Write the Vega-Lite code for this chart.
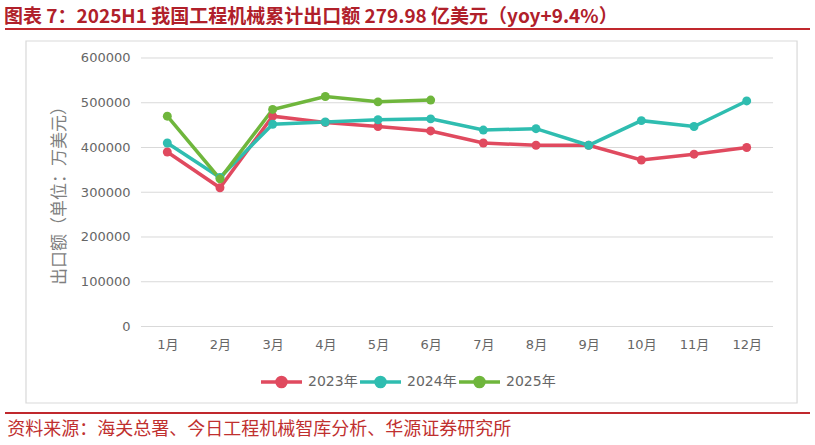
{
  "$schema": "https://vega.github.io/schema/vega-lite/v6.json",
  "width": 805,
  "height": 384,
  "autosize": {"type": "none"},
  "padding": {"left": 5, "top": 29, "right": 5, "bottom": 32},
  "background": "white",
  "config": {"view": {"stroke": null}},
  "title": {
    "text": "图表 7：2025H1 我国工程机械累计出口额 279.98 亿美元（yoy+9.4%）",
    "anchor": "start",
    "fontSize": 19,
    "font": "Noto Sans CJK SC",
    "fontWeight": "bold",
    "color": "#B0202A",
    "offset": 1
  },
  "datasets": {
    "exports": [
      {"month": 1, "year": "2023年", "value": 390000},
      {"month": 2, "year": "2023年", "value": 310000},
      {"month": 3, "year": "2023年", "value": 470000},
      {"month": 4, "year": "2023年", "value": 456000},
      {"month": 5, "year": "2023年", "value": 447000},
      {"month": 6, "year": "2023年", "value": 437000},
      {"month": 7, "year": "2023年", "value": 410000},
      {"month": 8, "year": "2023年", "value": 405000},
      {"month": 9, "year": "2023年", "value": 405000},
      {"month": 10, "year": "2023年", "value": 372000},
      {"month": 11, "year": "2023年", "value": 385000},
      {"month": 12, "year": "2023年", "value": 400000},
      {"month": 1, "year": "2024年", "value": 410000},
      {"month": 2, "year": "2024年", "value": 333000},
      {"month": 3, "year": "2024年", "value": 452000},
      {"month": 4, "year": "2024年", "value": 457000},
      {"month": 5, "year": "2024年", "value": 462000},
      {"month": 6, "year": "2024年", "value": 464000},
      {"month": 7, "year": "2024年", "value": 439000},
      {"month": 8, "year": "2024年", "value": 442000},
      {"month": 9, "year": "2024年", "value": 405000},
      {"month": 10, "year": "2024年", "value": 460000},
      {"month": 11, "year": "2024年", "value": 447000},
      {"month": 12, "year": "2024年", "value": 504000},
      {"month": 1, "year": "2025年", "value": 470000},
      {"month": 2, "year": "2025年", "value": 330000},
      {"month": 3, "year": "2025年", "value": 485000},
      {"month": 4, "year": "2025年", "value": 514000},
      {"month": 5, "year": "2025年", "value": 502000},
      {"month": 6, "year": "2025年", "value": 506000}
    ],
    "grid": [
      {"g": 0}, {"g": 100000}, {"g": 200000}, {"g": 300000},
      {"g": 400000}, {"g": 500000}, {"g": 600000}
    ],
    "note": [
      {"source": "资料来源：海关总署、今日工程机械智库分析、华源证券研究所"}
    ]
  },
  "layer": [
    {
      "data": {"name": "note"},
      "mark": {"type": "rect", "filled": false, "stroke": "#D9D9D9", "strokeWidth": 1.2},
      "encoding": {
        "x": {
          "datum": -1.683, "type": "quantitative",
          "scale": {"domain": [-2.0815, 13.2018], "nice": false, "zero": false},
          "axis": {
            "values": [1, 2, 3, 4, 5, 6, 7, 8, 9, 10, 11, 12],
            "labelExpr": "datum.value + '月'",
            "grid": false, "domain": false, "ticks": false,
            "offset": -78, "labelPadding": 3, "title": null,
            "labelFont": "DejaVu Sans, Noto Sans CJK SC",
            "labelFontSize": 13, "labelColor": "#666666", "labelFlush": false
          }
        },
        "x2": {"datum": 12.956},
        "y": {
          "datum": 637989, "type": "quantitative",
          "scale": {"domain": [-193296, 664804], "nice": false, "zero": false},
          "axis": {
            "values": [0, 100000, 200000, 300000, 400000, 500000, 600000],
            "format": "d",
            "grid": false, "domain": false, "ticks": false,
            "offset": -125, "labelPadding": 0,
            "labelFont": "DejaVu Sans", "labelFontSize": 13, "labelColor": "#666666",
            "labelFlush": false,
            "title": "出口额（单位：万美元）",
            "titleFont": "Noto Sans CJK SC", "titleFontSize": 17,
            "titleFontWeight": "normal", "titleColor": "#7F7F7F",
            "titlePadding": 12, "titleY": 162
          }
        },
        "y2": {"datum": -170950}
      }
    },
    {
      "data": {"name": "grid"},
      "mark": {"type": "rule", "stroke": "#D9D9D9", "strokeWidth": 1},
      "encoding": {
        "x": {"datum": 0.5, "type": "quantitative"},
        "x2": {"datum": 12.5},
        "y": {"field": "g", "type": "quantitative"}
      }
    },
    {
      "data": {"name": "note"},
      "mark": {"type": "rule", "stroke": "#C0282D", "strokeWidth": 2},
      "encoding": {
        "y": {"datum": 664804, "type": "quantitative"}
      }
    },
    {
      "data": {"name": "note"},
      "mark": {"type": "rule", "stroke": "#C0282D", "strokeWidth": 2},
      "encoding": {
        "y": {"datum": -193296, "type": "quantitative"}
      }
    },
    {
      "data": {"name": "exports"},
      "mark": {"type": "line", "strokeWidth": 3.5},
      "encoding": {
        "x": {"field": "month", "type": "quantitative"},
        "y": {"field": "value", "type": "quantitative"},
        "color": {
          "field": "year", "type": "nominal",
          "scale": {"domain": ["2023年", "2024年", "2025年"], "range": ["#E04A5F", "#2FBDB0", "#6FB63C"]},
          "legend": {
            "orient": "none", "legendX": 254, "legendY": 330,
            "direction": "horizontal", "title": null,
            "symbolType": "M-1,0L1,0M0.22,0A0.22,0.22,0,1,1,-0.22,0A0.22,0.22,0,1,1,0.22,0",
            "symbolSize": 1681, "symbolStrokeWidth": 3.5,
            "labelFont": "DejaVu Sans, Noto Sans CJK SC", "labelFontSize": 14,
            "labelColor": "#666666", "labelOffset": 4, "columnPadding": -5,
            "encode": {"symbols": {"update": {"fill": {"scale": "color", "field": "value"}, "stroke": {"scale": "color", "field": "value"}}}}
          }
        }
      }
    },
    {
      "data": {"name": "exports"},
      "mark": {"type": "point", "filled": true, "size": 80, "opacity": 1},
      "encoding": {
        "x": {"field": "month", "type": "quantitative"},
        "y": {"field": "value", "type": "quantitative"},
        "color": {"field": "year", "type": "nominal"}
      }
    },
    {
      "data": {"name": "note"},
      "mark": {"type": "text", "align": "left", "baseline": "middle", "fontSize": 18, "font": "Noto Sans CJK SC", "color": "#C0302F"},
      "encoding": {
        "x": {"datum": -2.04, "type": "quantitative"},
        "y": {"datum": -231285, "type": "quantitative"},
        "text": {"field": "source"}
      }
    }
  ]
}
